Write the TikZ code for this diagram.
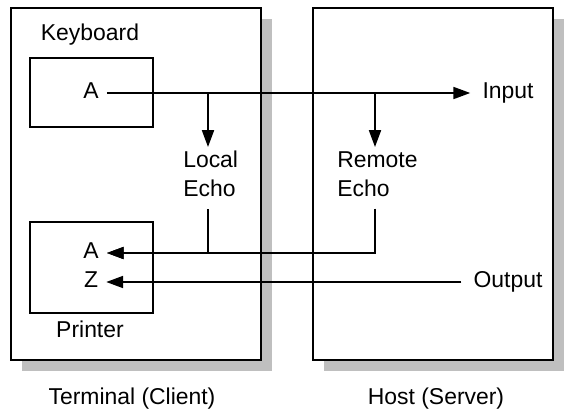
\documentclass[tikz,border=0pt]{standalone}
\usepackage{fontspec}
\setmainfont{Liberation Sans}
\usetikzlibrary{arrows.meta,shadows}
\begin{document}
\begin{tikzpicture}[x=0.025cm,y=-0.025cm,
  box/.style={draw, line width=1.3pt, fill=white},
  shadowbox/.style={box, general shadow={fill=gray!50, shadow xshift=0.275cm, shadow yshift=-0.275cm}},
  tag/.style={font=\fontsize{16.3pt}{20.6pt}\selectfont, inner sep=0pt, text height=11.5pt, text depth=3.2pt},
  letter/.style={tag, inner xsep=0.2cm},
  io/.style={tag, inner xsep=0.3cm},
  echo/.style={font=\fontsize{16.3pt}{20.6pt}\selectfont, align=left, inner xsep=0pt, inner ysep=0.1cm, anchor=north west},
  wire/.style={line width=1.2pt},
  flow/.style={wire, -{Triangle[length=0.42cm,width=0.3cm]}}]
\useasboundingbox (0,0) rectangle (565,415);
% client and server
\node[shadowbox, minimum width=6.25cm, minimum height=8.8cm] (term) at (136,184) {};
\node[shadowbox, minimum width=6cm, minimum height=8.8cm] (host) at (433,184) {};
\node[box, minimum width=3.075cm, minimum height=1.725cm] (kbd) at (91.5,92.5) {};
\node[box, minimum width=3.075cm, minimum height=2.275cm] (prn) at (91.5,267.5) {};
% labels
\node[tag] (kbdlbl) at (90,35) {Keyboard};
\node[tag] (prnlbl) at (90,332) {Printer};
\node[letter] (keyA) at (91,93) {A};
\node[letter] (prnA) at (91,253) {A};
\node[letter] (prnZ) at (91,282) {Z};
\node[io] (input) at (508,93) {Input};
\node[io] (output) at (508,282) {Output};
\node[echo] (local) at (183,147) {Local\\Echo};
\node[echo] (remote) at (337,147) {Remote\\Echo};
\node[tag] (termlbl) at (132,399) {Terminal (Client)};
\node[tag] (hostlbl) at (436,399) {Host (Server)};
% branch points
\coordinate (lbr) at (208,93);
\coordinate (rbr) at (375,93);
\draw[flow] (keyA.east) -- (input.west);
\draw[flow] (lbr) -- (lbr |- local.north);
\draw[flow] (rbr) -- (rbr |- remote.north);
\draw[flow, shorten <=0.2cm] (lbr |- local.south) |- (prnA.east);
\draw[flow, shorten <=0.2cm] (rbr |- remote.south) |- (prnA.east);
\draw[flow] (output.west) -- (prnZ.east);
\end{tikzpicture}
\end{document}
